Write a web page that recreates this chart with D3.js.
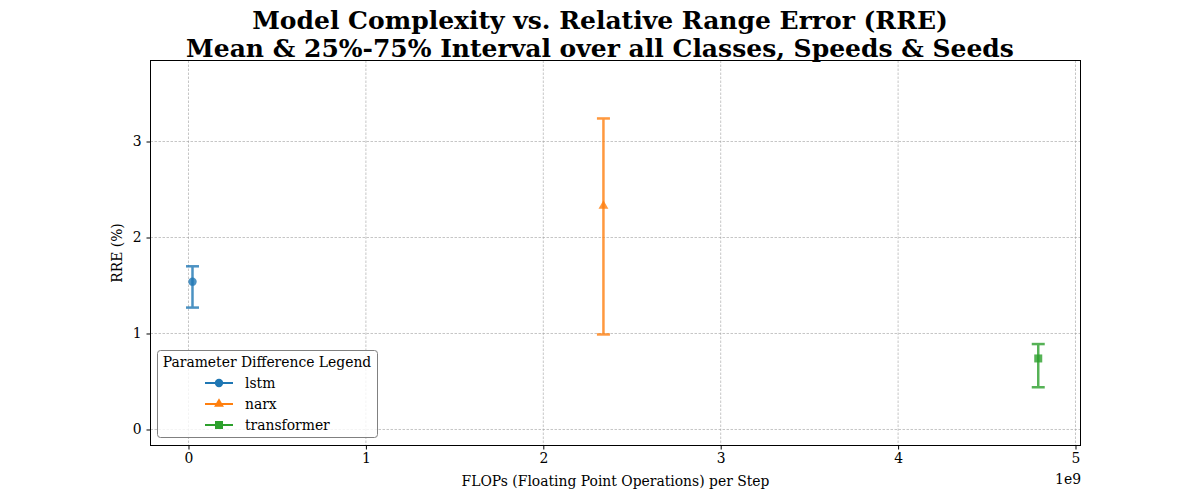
<!DOCTYPE html>
<html><head><meta charset="utf-8">
<script src="https://cdn.jsdelivr.net/npm/d3@7"></script>
<style>body{margin:0;background:#fff}text{font-family:"DejaVu Serif",serif}</style>
</head><body><svg id="c" width="1200" height="500"></svg>
<script>
const models = ["lstm", "narx", "transformer"];
const flops = [0.0225e9, 2.339e9, 4.79e9];
const meanRRE = [1.54, 2.33, 0.74];
const q25 = [1.27, 0.99, 0.44];
const q75 = [1.70, 3.24, 0.89];
const colors = ["#1f77b4", "#ff7f0e", "#2ca02c"];
const markers = ["circle", "triangle", "square"];
const xTicks = [0, 1, 2, 3, 4, 5];
const yTicks = [0, 1, 2, 3];

const FS = 13.9;
const svg = d3.select("#c");
const L = 150.5, R = 1080.5, T = 60.5, B = 445.5;
const x = d3.scaleLinear().domain([-0.2142e9, 5.0282e9]).range([L, R]);
const y = d3.scaleLinear().domain([-0.1667, 3.8438]).range([B, T]);

// grid
const g = svg.append("g");
g.selectAll(".gx").data(xTicks).join("line")
  .attr("x1", d => x(d * 1e9)).attr("x2", d => x(d * 1e9)).attr("y1", T).attr("y2", B)
  .attr("stroke", "#a0a0a0").attr("stroke-width", 0.6).attr("stroke-dasharray", "2.5,1.5");
g.selectAll(".gy").data(yTicks).join("line")
  .attr("y1", d => y(d)).attr("y2", d => y(d)).attr("x1", L).attr("x2", R)
  .attr("stroke", "#a0a0a0").attr("stroke-width", 0.6).attr("stroke-dasharray", "2.5,1.5");

// axes
const xa = svg.append("g").attr("transform", `translate(0,${B})`)
  .call(d3.axisBottom(x).tickValues(xTicks.map(d => d * 1e9)).tickFormat(d => d3.format("d")(d / 1e9)).tickSize(4).tickPadding(4));
const ya = svg.append("g").attr("transform", `translate(${L},0)`)
  .call(d3.axisLeft(y).tickValues(yTicks).tickFormat(d3.format("d")).tickSize(4).tickPadding(5));
[xa, ya].forEach(a => {
  a.select(".domain").remove();
  a.selectAll("text").attr("font-size", FS).attr("fill", "#000").attr("font-family", "DejaVu Serif");
  a.selectAll("line").attr("stroke", "#000");
});
svg.append("rect").attr("x", L).attr("y", T).attr("width", R - L).attr("height", B - T)
  .attr("fill", "none").attr("stroke", "#000").attr("stroke-width", 1);

svg.append("text").attr("x", 1081).attr("y", 484).attr("text-anchor", "end").attr("font-size", FS).text("1e9");

// labels
svg.append("text").attr("x", (L + R) / 2).attr("y", 486).attr("text-anchor", "middle").attr("font-size", FS)
  .text("FLOPs (Floating Point Operations) per Step");
svg.append("text").attr("transform", `translate(122,${(T + B) / 2}) rotate(-90)`).attr("text-anchor", "middle").attr("font-size", FS)
  .text("RRE (%)");
svg.append("text").attr("x", 600).attr("y", 29).attr("text-anchor", "middle").attr("font-size", 25).attr("font-weight", "bold")
  .text("Model Complexity vs. Relative Range Error (RRE)");
svg.append("text").attr("x", 600).attr("y", 57).attr("text-anchor", "middle").attr("font-size", 25).attr("font-weight", "bold")
  .text("Mean & 25%-75% Interval over all Classes, Speeds & Seeds");

function marker(sel, type, cx, cy, col) {
  if (type === "circle") sel.append("circle").attr("cx", cx).attr("cy", cy).attr("r", 4.2).attr("fill", col);
  else if (type === "triangle") sel.append("path").attr("d", d3.symbol(d3.symbolTriangle, 42)()).attr("transform", `translate(${cx},${cy})`).attr("fill", col);
  else sel.append("rect").attr("x", cx - 4).attr("y", cy - 4).attr("width", 8).attr("height", 8).attr("fill", col);
}

// error bars
models.forEach((m, i) => {
  const gg = svg.append("g");
  const cx = x(flops[i]);
  const eb = gg.append("g").attr("opacity", 0.8).attr("stroke", colors[i]).attr("stroke-width", 2.5);
  eb.append("line").attr("x1", cx).attr("x2", cx).attr("y1", y(q25[i])).attr("y2", y(q75[i]));
  [q25[i], q75[i]].forEach(v => eb.append("line").attr("x1", cx - 6.5).attr("x2", cx + 6.5).attr("y1", y(v)).attr("y2", y(v)));
  const mg = gg.append("g").attr("opacity", 0.8);
  marker(mg, markers[i], cx, y(meanRRE[i]), colors[i]);
});

// legend
const lg = svg.append("g");
lg.append("rect").attr("x", 157.5).attr("y", 350.5).attr("width", 220).attr("height", 87).attr("rx", 3)
  .attr("fill", "#fff").attr("fill-opacity", 0.8).attr("stroke", "#808080").attr("stroke-width", 1);
lg.append("text").attr("x", 267).attr("y", 367).attr("text-anchor", "middle").attr("font-size", FS).text("Parameter Difference Legend");
models.forEach((m, i) => {
  const yy = 383 + i * 21;
  lg.append("line").attr("x1", 205).attr("x2", 233).attr("y1", yy).attr("y2", yy).attr("stroke", colors[i]).attr("stroke-width", 2);
  marker(lg, markers[i], 219, yy, colors[i]);
  lg.append("text").attr("x", 245).attr("y", yy + 5).attr("font-size", FS).text(m);
});
</script></body></html>
